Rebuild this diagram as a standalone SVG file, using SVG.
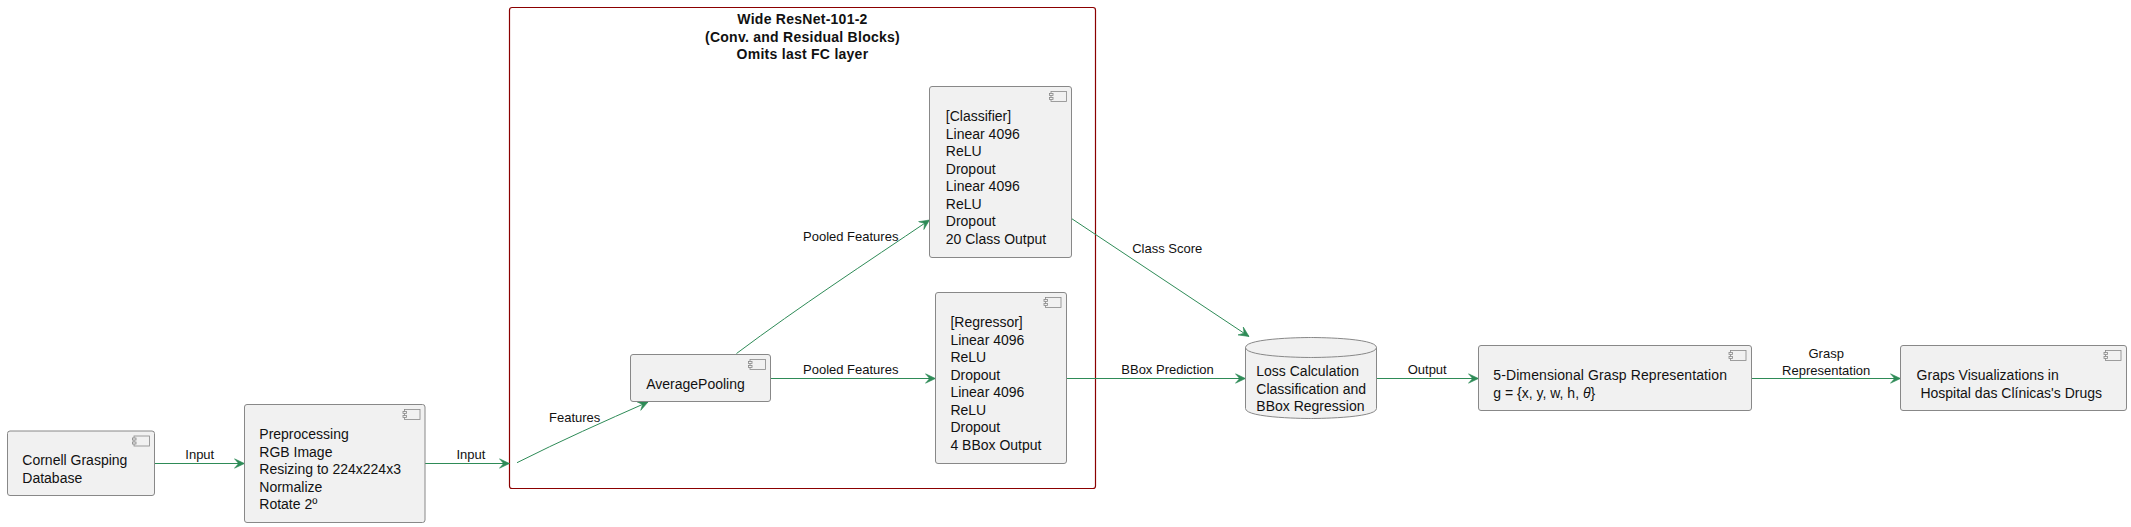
<svg xmlns="http://www.w3.org/2000/svg" width="2131" height="527" viewBox="0 0 2131 527">
<style>
text{font-family:"Liberation Sans",Arial,sans-serif;fill:#111}
.n{font-size:14px}
.l{font-size:13px}
.t{font-size:14px;font-weight:bold;text-anchor:middle;letter-spacing:.26px}
.box{fill:#F1F1F1;stroke:#888;stroke-width:1}
.ic{fill:#F1F1F1;stroke:#888;stroke-width:.8}
.c{fill:none;stroke:#2E8B57;stroke-width:1}
</style>
<defs>
<marker id="ah" markerUnits="userSpaceOnUse" markerWidth="12" markerHeight="12" refX="10.5" refY="5.5" orient="auto">
<path d="M10.5,5.5L0.5,0.8L4.6,5.5L0.5,10.2Z" fill="#2E8B57" stroke="#2E8B57" stroke-width=".6"/>
</marker>
<g id="ico">
<rect class="ic" x="1.5" y="0" width="15.5" height="10"/>
<rect class="ic" x="0" y="2" width="3.5" height="2"/>
<rect class="ic" x="0" y="6" width="3.5" height="2"/>
</g>
</defs>
<rect width="2131" height="527" fill="#fff"/>

<g id="cluster-wide-resnet">
<rect x="509.5" y="7.5" width="586" height="481" rx="2.5" fill="none" stroke="#8B0000" stroke-width="1.2"/>
<text class="t" x="802.5" y="24">Wide ResNet-101-2</text>
<text class="t" x="802.5" y="41.5">(Conv. and Residual Blocks)</text>
<text class="t" x="802.5" y="59">Omits last FC layer</text>
</g>

<g id="connectors">
<path class="c" marker-end="url(#ah)" d="M154.5,463.5H244.5"/>
<path class="c" marker-end="url(#ah)" d="M425,463.5H509.5"/>
<path class="c" marker-end="url(#ah)" d="M517,462.7C560,441 605,421 648,402"/>
<path class="c" marker-end="url(#ah)" d="M736.5,353.5C800,306 866,263 929.5,220"/>
<path class="c" marker-end="url(#ah)" d="M770.5,378.5H935.5"/>
<path class="c" marker-end="url(#ah)" d="M1071.5,218.5L1249,336.5"/>
<path class="c" marker-end="url(#ah)" d="M1066.5,378.5H1245.5"/>
<path class="c" marker-end="url(#ah)" d="M1376.5,378.5H1478.5"/>
<path class="c" marker-end="url(#ah)" d="M1751.5,378.5H1900.5"/>
<text class="l" x="185.3" y="459.3">Input</text>
<text class="l" x="456.4" y="459.3">Input</text>
<text class="l" x="549" y="422">Features</text>
<text class="l" x="803" y="241.3">Pooled Features</text>
<text class="l" x="803" y="374">Pooled Features</text>
<text class="l" x="1132.2" y="253.3">Class Score</text>
<text class="l" x="1121.3" y="374.3">BBox Prediction</text>
<text class="l" x="1407.7" y="374">Output</text>
<text class="l" x="1826.2" y="358" text-anchor="middle">Grasp</text>
<text class="l" x="1826.2" y="375" text-anchor="middle">Representation</text>
</g>

<g id="cornell">
<rect class="box" x="7.5" y="431" width="147" height="64.5" rx="2.5"/>
<use href="#ico" x="132.5" y="436"/>
<text class="n" x="22.3" y="465.3">Cornell Grasping</text>
<text class="n" x="22.3" y="483">Database</text>
</g>

<g id="preprocessing">
<rect class="box" x="244.5" y="404.5" width="180.5" height="118" rx="2.5"/>
<use href="#ico" x="403" y="409.5"/>
<text class="n" x="259.3" y="439.3">Preprocessing</text>
<text class="n" x="259.3" y="456.8">RGB Image</text>
<text class="n" x="259.3" y="474.3">Resizing to 224x224x3</text>
<text class="n" x="259.3" y="491.8">Normalize</text>
<text class="n" x="259.3" y="509.3">Rotate 2º</text>
</g>

<g id="classifier">
<rect class="box" x="929.5" y="86.5" width="142" height="171" rx="2.5"/>
<use href="#ico" x="1049.5" y="91.5"/>
<text class="n" x="945.8" y="121">[Classifier]</text>
<text class="n" x="945.8" y="138.5">Linear 4096</text>
<text class="n" x="945.8" y="156">ReLU</text>
<text class="n" x="945.8" y="173.5">Dropout</text>
<text class="n" x="945.8" y="191">Linear 4096</text>
<text class="n" x="945.8" y="208.5">ReLU</text>
<text class="n" x="945.8" y="226">Dropout</text>
<text class="n" x="945.8" y="243.5">20 Class Output</text>
</g>

<g id="average-pooling">
<rect class="box" x="630.5" y="354.5" width="140" height="47" rx="2.5"/>
<use href="#ico" x="748.5" y="359.5"/>
<text class="n" x="646.2" y="389.3">AveragePooling</text>
</g>

<g id="regressor">
<rect class="box" x="935.5" y="292.5" width="131" height="171" rx="2.5"/>
<use href="#ico" x="1044" y="297.5"/>
<text class="n" x="950.4" y="327">[Regressor]</text>
<text class="n" x="950.4" y="344.5">Linear 4096</text>
<text class="n" x="950.4" y="362">ReLU</text>
<text class="n" x="950.4" y="379.5">Dropout</text>
<text class="n" x="950.4" y="397">Linear 4096</text>
<text class="n" x="950.4" y="414.5">ReLU</text>
<text class="n" x="950.4" y="432">Dropout</text>
<text class="n" x="950.4" y="449.5">4 BBox Output</text>
</g>

<g id="loss">
<path class="box" d="M1245.5,347.5C1245.5,337.5 1311,337.5 1311,337.5C1311,337.5 1376.5,337.5 1376.5,347.5V408.5C1376.5,418.5 1311,418.5 1311,418.5C1311,418.5 1245.5,418.5 1245.5,408.5Z"/>
<path d="M1245.5,347.5C1245.5,357.5 1311,357.5 1311,357.5C1311,357.5 1376.5,357.5 1376.5,347.5" fill="none" stroke="#888"/>
<text class="n" x="1256.3" y="376">Loss Calculation</text>
<text class="n" x="1256.3" y="393.5">Classification and</text>
<text class="n" x="1256.3" y="411">BBox Regression</text>
</g>

<g id="grasp-representation">
<rect class="box" x="1478.5" y="345.5" width="273" height="65" rx="2.5"/>
<use href="#ico" x="1729" y="350.5"/>
<text class="n" x="1493.3" y="380.3" letter-spacing=".1">5-Dimensional Grasp Representation</text>
<text class="n" x="1493.3" y="398">g = {x, y, w, h, <tspan font-style="italic">θ</tspan>}</text>
</g>

<g id="visualization">
<rect class="box" x="1900.5" y="345.5" width="226" height="65" rx="2.5"/>
<use href="#ico" x="2104" y="350.5"/>
<text class="n" x="1916.6" y="380.3">Graps Visualizations in</text>
<text class="n" x="1920.4" y="398">Hospital das Clínicas's Drugs</text>
</g>
</svg>
